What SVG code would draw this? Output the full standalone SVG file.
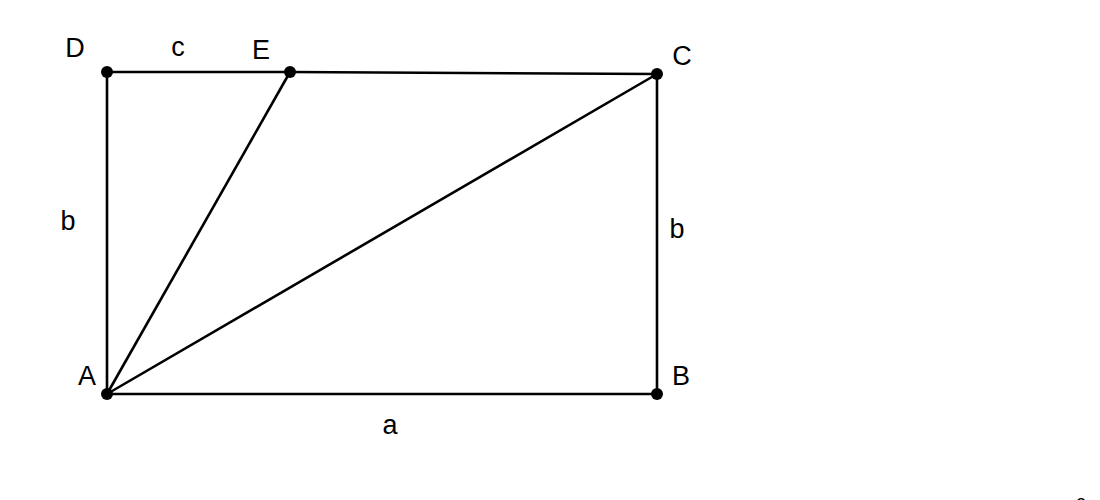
<svg xmlns="http://www.w3.org/2000/svg" width="1100" height="500" viewBox="0 0 1100 500">
<style>
.ln{stroke:#000;stroke-width:2.6;fill:none}
.pt{fill:#000}
text{font-family:"Liberation Sans",Arial,sans-serif;font-size:27px;fill:#000;text-anchor:middle}
</style>
<rect width="1100" height="500" fill="#fff"/>
<g id="connectors">
<line class="ln" x1="107" y1="72" x2="290" y2="72"/>
<line class="ln" x1="290" y1="72" x2="657" y2="74"/>
<line class="ln" x1="107" y1="72" x2="107" y2="394"/>
<line class="ln" x1="657" y1="74" x2="657" y2="394"/>
<line class="ln" x1="107" y1="394" x2="657" y2="394"/>
<line class="ln" x1="107" y1="394" x2="290" y2="72"/>
<line class="ln" x1="107" y1="394" x2="657" y2="74"/>
</g>
<g id="A"><circle class="pt" cx="107" cy="394" r="6"/><text x="87" y="385">A</text></g>
<g id="B"><circle class="pt" cx="657" cy="394" r="6"/><text x="681" y="385">B</text></g>
<g id="C"><circle class="pt" cx="657" cy="74" r="6"/><text x="682" y="65">C</text></g>
<g id="D"><circle class="pt" cx="107" cy="72" r="6"/><text x="75" y="57">D</text></g>
<g id="E"><circle class="pt" cx="290" cy="72" r="6"/><text x="261" y="59">E</text></g>
<g id="labels">
<text x="178" y="56">c</text>
<text x="68" y="230">b</text>
<text x="677" y="238">b</text>
<text x="390" y="434">a</text>
<text x="1081" y="511" style="font-size:18px">2</text>
</g>
</svg>
